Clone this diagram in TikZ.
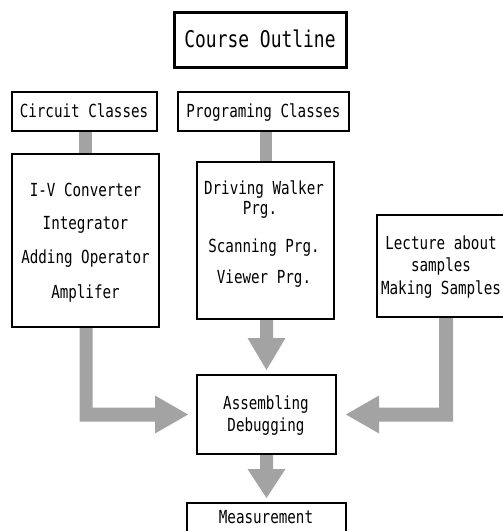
\documentclass[tikz,border=0pt]{standalone}
\usepackage{fontspec}
\newfontfamily\monofnt[FakeStretch=0.79]{DejaVu Sans Mono}
\newfontfamily\monobig[FakeStretch=0.78]{DejaVu Sans Mono}
\usetikzlibrary{calc,backgrounds}
\begin{document}
\begin{tikzpicture}[x=1pt,y=-1pt,
  box/.style={draw=black, line width=2pt, fill=white, inner sep=0pt},
  txt/.style={anchor=base, inner sep=0pt, font=\monofnt\fontsize{18}{20}\selectfont},
  bigtxt/.style={anchor=base, inner sep=0pt, font=\monobig\fontsize{23}{26}\selectfont},
  arr/.style={fill=black!36}]
\useasboundingbox (0,0) rectangle (503,531);

% boxes
\node[box, line width=3pt, minimum width=172pt, minimum height=55pt] (title) at (260,39.5) {};
\node[box, minimum width=145pt, minimum height=39pt] (cc) at (84.5,111.5) {};
\node[box, minimum width=171pt, minimum height=39pt] (pc) at (263.5,111.5) {};
\node[box, minimum width=147pt, minimum height=173pt] (circ) at (85.5,240.5) {};
\node[box, minimum width=137pt, minimum height=157pt] (prog) at (265.5,240.5) {};
\node[box, minimum width=138pt, minimum height=102pt] (lect) at (446,266) {};
\node[box, minimum width=139pt, minimum height=79pt] (asm) at (266.5,414.5) {};
\node[box, minimum width=159pt, minimum height=42pt] (meas) at (266.5,524) {};

% texts
\node[bigtxt] (t0) at (260,47) {Course Outline};
\node[txt] (t1) at (84,117) {Circuit Classes};
\node[txt] (t2) at (263.5,117) {Programing Classes};
\node[txt] (c1) at (85.5,196) {I-V Converter};
\node[txt] (c2) at (85.5,229) {Integrator};
\node[txt] (c3) at (85.5,263) {Adding Operator};
\node[txt] (c4) at (85.5,298) {Amplifer};
\node[txt] (p1) at (264,194) {Driving Walker};
\node[txt] (p2) at (260,214) {Prg.};
\node[txt] (p3) at (264,252) {Scanning Prg.};
\node[txt] (p4) at (264,283) {Viewer Prg.};
\node[txt] (l1) at (441,249) {Lecture about};
\node[txt] (l2) at (441,271) {samples};
\node[txt] (l3) at (441,294) {Making Samples};
\node[txt] (a1) at (266,409) {Assembling};
\node[txt] (a2) at (266,431) {Debugging};
\node[txt] (m1) at (266,523) {Measurement};

% connectors
\begin{pgfonlayer}{background}
\fill[arr] let \p1=(cc.south), \p2=(circ.north) in
  (\x2-6.5pt,\y1) rectangle (\x2+6.5pt,\y2);
\fill[arr] let \p1=(pc.south), \p2=(prog.north) in
  (\x2-6pt,\y1) rectangle (\x2+6pt,\y2);
% prog -> asm
\fill[arr] let \p1=(prog.south), \p2=(asm.north) in
  (\x2-6.5pt,\y1) -- (\x2-6.5pt,\y2+36pt) -- (\x2-19pt,\y2+36pt) -- (\x2,\y2+4pt)
  -- (\x2+19pt,\y2+36pt) -- (\x2+6.5pt,\y2+36pt) -- (\x2+6.5pt,\y1) -- cycle;
% asm -> meas
\fill[arr] let \p1=(asm.south), \p2=(meas.north) in
  (\x2-6.5pt,\y1) -- (\x2-6.5pt,\y2+33pt) -- (\x2-19pt,\y2+33pt) -- (\x2,\y2+4pt)
  -- (\x2+19pt,\y2+33pt) -- (\x2+6.5pt,\y2+33pt) -- (\x2+6.5pt,\y1) -- cycle;
% circ -> asm
\fill[arr] let \p1=(circ.south), \p2=(asm.west) in
  (\x1-6pt,\y1) -- (\x1-6pt,\y2-7pt) -- (\x2-41pt,\y2-7pt) -- (\x2-41pt,\y2-19pt)
  -- (\x2-8pt,\y2) -- (\x2-41pt,\y2+19pt) -- (\x2-41pt,\y2+7pt) -- (\x1+7pt,\y2+7pt)
  -- (\x1+7pt,\y1) -- cycle;
% lect -> asm
\fill[arr] let \p1=(lect.south), \p2=(asm.east) in
  (\x1+7pt,\y1) -- (\x1+7pt,\y2-7pt) -- (\x2+42pt,\y2-7pt) -- (\x2+42pt,\y2-19pt)
  -- (\x2+9pt,\y2) -- (\x2+42pt,\y2+19pt) -- (\x2+42pt,\y2+7pt) -- (\x1-7pt,\y2+7pt)
  -- (\x1-7pt,\y1) -- cycle;
\end{pgfonlayer}
\end{tikzpicture}
\end{document}
